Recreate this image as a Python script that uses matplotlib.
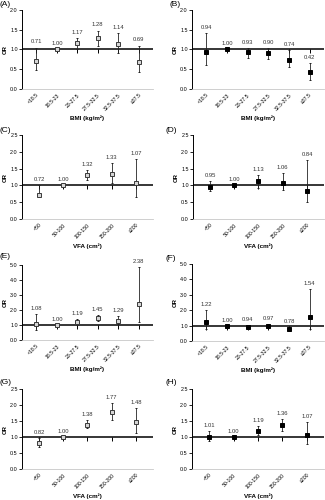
# OR plots by BMI / VFA category, 4x2 panels
import matplotlib
matplotlib.use('Agg')
import matplotlib.pyplot as plt
import numpy as np

plt.rcParams['font.family'] = ['Liberation Sans', 'DejaVu Sans']

# categories
bmi_cats = ['<18.5', '18.5-23', '23-27.5', '27.5-32.5', '32.5-37.5', '≥37.5']
vfa_cats = ['<50', '50-100', '100-150', '150-200', '≥200']

# odds ratios with lower / upper CI
a_or = [0.71, 1.00, 1.17, 1.28, 1.14, 0.69]
a_lo = [0.47, 1.00, 1.02, 1.10, 0.92, 0.42]
a_hi = [1.05, 1.00, 1.30, 1.48, 1.42, 1.10]

b_or = [0.94, 1.00, 0.93, 0.90, 0.74, 0.42]
b_lo = [0.61, 1.00, 0.79, 0.76, 0.55, 0.24]
b_hi = [1.42, 1.00, 1.04, 1.03, 0.99, 0.65]

c_or = [0.72, 1.00, 1.32, 1.33, 1.07]
c_lo = [0.65, 1.00, 1.17, 1.07, 0.65]
c_hi = [1.02, 1.00, 1.46, 1.66, 1.78]

d_or = [0.95, 1.00, 1.13, 1.06, 0.84]
d_lo = [0.82, 1.00, 0.92, 0.85, 0.50]
d_hi = [1.14, 1.00, 1.31, 1.36, 1.76]

e_or = [1.08, 1.00, 1.19, 1.45, 1.29, 2.38]
e_lo = [0.67, 1.00, 1.02, 1.28, 1.05, 1.18]
e_hi = [1.73, 1.00, 1.39, 1.65, 1.60, 4.87]

f_or = [1.22, 1.00, 0.94, 0.97, 0.78, 1.54]
f_lo = [0.76, 1.00, 0.84, 0.85, 0.65, 0.78]
f_hi = [1.99, 1.00, 1.05, 1.10, 0.93, 3.40]

g_or = [0.82, 1.00, 1.38, 1.77, 1.48]
g_lo = [0.70, 1.00, 1.28, 1.54, 1.12]
g_hi = [0.97, 1.00, 1.52, 2.05, 1.92]

h_or = [1.01, 1.00, 1.19, 1.36, 1.07]
h_lo = [0.86, 1.00, 1.07, 1.19, 0.79]
h_hi = [1.18, 1.00, 1.33, 1.56, 1.48]

BMI_LABEL = 'BMI (kg/m²)'
VFA_LABEL = 'VFA (cm²)'

W, H = 325, 500  # figure size in px


def px_axes(fig, x0, x1, ytop, ybot):
    # axes from pixel box (top-left origin)
    return fig.add_axes([x0 / W, 1 - ybot / H, (x1 - x0) / W, (ybot - ytop) / H])


def draw_panel(ax, cats, odds, lo, hi, filled, ymax, ystep, xlabel):
    x = np.arange(len(cats))
    odds = np.array(odds)
    yerr = [odds - np.array(lo), np.array(hi) - odds]

    # reference line at OR = 1 acts as the x axis, with ticks pointing down
    ax.axhline(1.0, color='black', lw=1.1, zorder=1)
    ax.plot(x, np.ones(len(x)), ls='none', marker=3, ms=2.8, mew=0.7, color='black', zorder=1)

    if filled:
        mfc, mec = 'black', 'black'
    else:
        mfc, mec = '#d6d6d6', '#3a3a3a'
    ax.errorbar(x, odds, yerr=yerr, fmt='s', ms=3.3, mfc=mfc, mec=mec, mew=0.7,
                ecolor='#222222', elinewidth=0.6, capsize=0.9, capthick=0.6, zorder=3)

    for xi, top, v in zip(x, hi, odds):
        ax.annotate(f'{v:.2f}', (xi, top), xytext=(0, 2.2), textcoords='offset points',
                    ha='center', va='bottom', fontsize=4.2, color='#333333',
                    annotation_clip=False)

    ax.set_xlim(-0.7, len(cats) - 0.3)
    ax.set_ylim(0, ymax)
    ax.set_yticks(np.arange(0, ymax + ystep / 2, ystep))
    ax.yaxis.set_major_formatter('{x:.1f}')
    ax.set_xticks(x)
    ax.set_xticklabels(cats, rotation=45, ha='right', rotation_mode='anchor', fontsize=3.7)
    ax.tick_params(axis='x', length=0, pad=2.5)
    ax.tick_params(axis='y', length=2, width=0.6, labelsize=3.9, pad=1)

    for s in ['top', 'right']:
        ax.spines[s].set_visible(False)
    ax.spines['left'].set_linewidth(0.7)
    ax.spines['bottom'].set_color('#c8c8c8')
    ax.spines['bottom'].set_linewidth(0.6)

    ax.set_ylabel('OR', fontsize=4.3, fontweight='bold', labelpad=2)
    ax.set_xlabel(xlabel, fontsize=4.5, fontweight='bold', labelpad=3)


fig = plt.figure(figsize=(W / 100, H / 100), dpi=100)

# letter, data, filled marker, ymax, ystep, xlabel, pixel box, label position
panels = [
    ('(A)', bmi_cats, a_or, a_lo, a_hi, False, 2.0, 0.5, BMI_LABEL, (22, 153, 10, 89), (0, 4)),
    ('(B)', bmi_cats, b_or, b_lo, b_hi, True, 2.0, 0.5, BMI_LABEL, (192, 324, 10, 89), (170, 4)),
    ('(C)', vfa_cats, c_or, c_lo, c_hi, False, 2.5, 0.5, VFA_LABEL, (22, 153, 135, 219), (0, 130)),
    ('(D)', vfa_cats, d_or, d_lo, d_hi, True, 2.5, 0.5, VFA_LABEL, (193, 324, 135, 219), (166, 131)),
    ('(E)', bmi_cats, e_or, e_lo, e_hi, False, 5.0, 1.0, BMI_LABEL, (22, 153, 265, 340), (0, 257)),
    ('(F)', bmi_cats, f_or, f_lo, f_hi, True, 5.0, 1.0, BMI_LABEL, (192, 324, 264, 341), (166, 258)),
    ('(G)', vfa_cats, g_or, g_lo, g_hi, False, 2.5, 0.5, VFA_LABEL, (22, 153, 389, 469), (0, 382)),
    ('(H)', vfa_cats, h_or, h_lo, h_hi, True, 2.5, 0.5, VFA_LABEL, (192, 324, 389, 469), (166, 383)),
]

for letter, cats, o, lo, hi, filled, ymax, ystep, xlab, box, lpos in panels:
    ax = px_axes(fig, *box)
    draw_panel(ax, cats, o, lo, hi, filled, ymax, ystep, xlab)
    fig.text(lpos[0] / W, 1 - lpos[1] / H, letter, fontsize=6, va='center', ha='left')

fig.savefig('out.png', dpi=100)
